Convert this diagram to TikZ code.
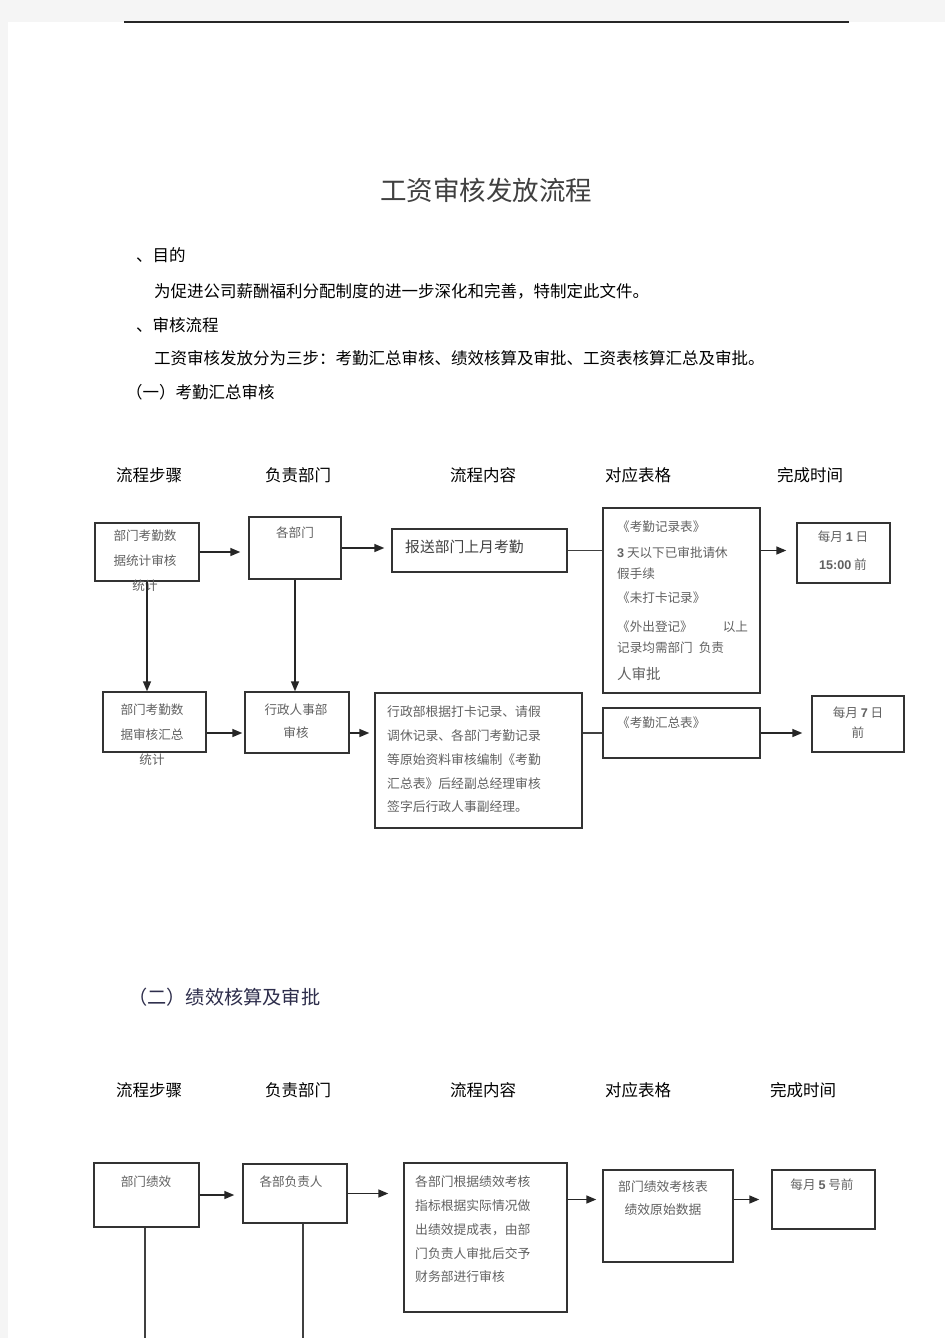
\documentclass[tikz,border=0pt]{standalone}
\usepackage{fontspec}
\newfontfamily\cjk{Noto Sans CJK SC}
\newfontfamily\numfont{Liberation Sans}
\usetikzlibrary{arrows.meta}

\begin{document}
\begin{tikzpicture}[x=1pt, y=-1pt,
        cell/.style={draw=black!80, line width=1.4pt, inner sep=0pt},
        note/.style={font=\cjk\fontsize{12.6}{25}\selectfont, text=black!62, inner sep=0pt, align=center},
        body/.style={font=\cjk\fontsize{16.5}{20}\selectfont, inner sep=0pt, anchor=west},
        arr/.style={draw=black!85, line width=1.5pt, -{Triangle[length=10pt,width=8pt]}, shorten >=8pt},
        link/.style={draw=black!75, line width=1.4pt}]
        \useasboundingbox (0,0) rectangle (945,1338);
        % page
        \fill[black!4] (0,0) rectangle (945,1338);
        \fill[white] (8,22) rectangle (945,1338);
        \coordinate (rulel) at (124,22);
        \coordinate (ruler) at (849,22);
        \draw[black!85, line width=1.3pt] (rulel) -- (ruler);

        % heading text
        \node[font=\cjk\fontsize{26.5}{30}\selectfont, text=black!75, inner sep=0pt] (title) at (486,190) {工资审核发放流程};
        \node[body] (aim) at (136,255) {、目的};
        \node[body] (aimtxt) at (154,291) {为促进公司薪酬福利分配制度的进一步深化和完善，特制定此文件。};
        \node[body] (proc) at (136,325) {、审核流程};
        \node[body] (proctxt) at (154,358) {工资审核发放分为三步：考勤汇总审核、绩效核算及审批、工资表核算汇总及审批。};
        \node[body] (part1) at (126,392) {（一）考勤汇总审核};
        \node[font=\cjk\fontsize{19.2}{22}\selectfont, text={rgb,255:red,45;green,45;blue,75}, inner sep=0pt, anchor=west] (part2) at (128,997) {（二）绩效核算及审批};

        % column heads
        \foreach \xa/\xb/\head [count=\i] in {116/116/流程步骤, 265/265/负责部门, 450/450/流程内容, 605/605/对应表格, 777/770/完成时间} {
          \node[body] (heada\i) at (\xa,475) {\head};
          \node[body] (headb\i) at (\xb,1090) {\head};
        };

        % attendance flow, first row
        \node[cell, minimum width=104pt, minimum height=58pt] (rec1) at (147,552) {};
        \node[cell, minimum width=92pt, minimum height=62pt] (dept1) at (295,548) {};
        \node[cell, minimum width=175pt, minimum height=43pt] (send1) at (479.5,550.5) {};
        \node[cell, minimum width=157pt, minimum height=185pt] (form1) at (681.5,600.5) {};
        \node[cell, minimum width=93pt, minimum height=60pt] (time1) at (843.5,553) {};
        \node[note] (rec1t) at (145,561) {部门考勤数\\据统计审核\\统计};
        \node[note] (dept1t) at (295,533) {各部门};
        \node[note, font=\cjk\fontsize{14.8}{18}\selectfont, text=black!75, anchor=west] (send1t) at (405,547) {报送部门上月考勤};
        \foreach \yy/\rowtxt [count=\i] in {527/《考勤记录表》, 553/{{\numfont\bfseries 3} 天以下已审批请休}, 574/假手续, 598/《未打卡记录》, 627/{《外出登记》\hspace{30pt}以上}, 648/{记录均需部门\hspace{6pt}负责}} {
          \node[note, anchor=west] (form1l\i) at (617,\yy) {\rowtxt};
        };
        \node[note, font=\cjk\fontsize{14.5}{18}\selectfont, anchor=west] (form1l7) at (617,674) {人审批};
        \node[note, font=\cjk\fontsize{12.6}{28}\selectfont] (time1t) at (843,551) {每月 {\numfont\bfseries 1} 日\\{\numfont\bfseries 15:00} 前};

        % attendance flow, second row
        \node[cell, minimum width=103pt, minimum height=60pt] (rec2) at (154.5,722) {};
        \node[cell, minimum width=104pt, minimum height=61pt] (dept2) at (297,722.5) {};
        \node[cell, minimum width=207pt, minimum height=135pt] (send2) at (478.5,760.5) {};
        \node[cell, minimum width=157pt, minimum height=50pt] (form2) at (681.5,733) {};
        \node[cell, minimum width=92pt, minimum height=56pt] (time2) at (858,724) {};
        \node[note] (rec2t) at (152,735) {部门考勤数\\据审核汇总\\统计};
        \node[note, font=\cjk\fontsize{12.6}{23}\selectfont] (dept2t) at (296,721) {行政人事部\\审核};
        \node[note, font=\cjk\fontsize{12.8}{23.75}\selectfont, align=left, anchor=west] (send2t) at (387,759.5) {行政部根据打卡记录、请假\\调休记录、各部门考勤记录\\等原始资料审核编制《考勤\\汇总表》后经副总经理审核\\签字后行政人事副经理。};
        \node[note, anchor=west] (form2t) at (617,723) {《考勤汇总表》};
        \node[note, font=\cjk\fontsize{12.6}{20}\selectfont] (time2t) at (858,723) {每月 {\numfont\bfseries 7} 日\\前};

        \draw[arr] (rec1.east) -- (dept1.west |- rec1.east);
        \draw[arr, shorten >=7pt] (dept1.east) -- (send1.west |- dept1.east);
        \draw[link] (send1.east) -- (form1.west |- send1.east);
        \draw[arr, shorten >=10pt] (form1.east |- send1.east) -- (time1.west |- send1.east);
        \draw[arr, shorten >=0pt] (rec1.south) -- (rec1.south |- rec2.north);
        \draw[arr, shorten >=0pt] (dept1.south) -- (dept1.south |- dept2.north);
        \draw[arr, shorten >=2pt] (rec2.east |- form2.east) -- (dept2.west |- form2.east);
        \draw[arr, shorten >=5pt] (dept2.east |- form2.east) -- (send2.west |- form2.east);
        \draw[link] (send2.east |- form2.east) -- (form2.west);
        \draw[arr, shorten >=9pt] (form2.east) -- (time2.west |- form2.east);

        % performance flow
        \node[cell, minimum width=105pt, minimum height=64pt] (rec3) at (146.5,1195) {};
        \node[cell, minimum width=104pt, minimum height=59pt] (dept3) at (295,1193.5) {};
        \node[cell, minimum width=163pt, minimum height=149pt] (send3) at (485.5,1237.5) {};
        \node[cell, minimum width=130pt, minimum height=92pt] (form3) at (668,1216) {};
        \node[cell, minimum width=103pt, minimum height=59pt] (time3) at (823.5,1199.5) {};
        \node[note] (rec3t) at (146,1182) {部门绩效};
        \node[note] (dept3t) at (291,1182) {各部负责人};
        \node[note, font=\cjk\fontsize{12.8}{23.75}\selectfont, align=left, anchor=west] (send3t) at (415,1229.5) {各部门根据绩效考核\\指标根据实际情况做\\出绩效提成表，由部\\门负责人审批后交予\\财务部进行审核};
        \node[note, font=\cjk\fontsize{12.8}{23}\selectfont] (form3t) at (663,1198.5) {部门绩效考核表\\绩效原始数据};
        \node[note] (time3t) at (822,1185) {每月 {\numfont\bfseries 5} 号前};
        \coordinate (recdrop) at (145,1338);
        \coordinate (deptdrop) at (303,1338);

        \draw[arr] (rec3.east) -- (dept3.west |- rec3.east);
        \draw[arr, shorten >=15pt] (dept3.east) -- (send3.west |- dept3.east);
        \draw[arr, shorten >=6pt] (send3.east |- time3.west) -- (form3.west |- time3.west);
        \draw[arr, shorten >=12pt] (form3.east |- time3.west) -- (time3.west);
        \draw[link] (recdrop |- rec3.south) -- (recdrop);
        \draw[link] (deptdrop |- dept3.south) -- (deptdrop);
      \end{tikzpicture}
\end{document}
